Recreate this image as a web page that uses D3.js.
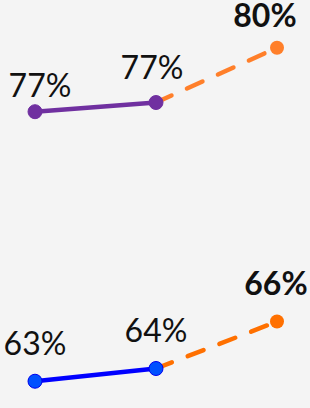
<!DOCTYPE html>
<html><head><meta charset="utf-8">
<script src="https://cdn.jsdelivr.net/npm/d3@7"></script>
<style>
html,body{margin:0;padding:0;background:#f4f4f4;}
svg{display:block;}
text{font-family:Lato,"Noto Sans",sans-serif;fill:#111;}
</style></head>
<body>
<svg id="c" width="310" height="408"></svg>
<script>
const periods = ["P1", "P2", "P3"];
const topValues = [76.73, 77.2, 80.0];
const bottomValues = [62.95, 63.6, 66.0];
const topLabels = ["77%", "77%", "80%"];
const bottomLabels = ["63%", "64%", "66%"];

const svg = d3.select("#c");
const x = d3.scalePoint().domain(periods).range([35, 277]);
const y = d3.scaleLinear().domain([62, 81]).range([399.8, 28.2]);

const panels = [
  {values: topValues, labels: topLabels, line: "#7030a0", dot: "#7030a0", dotStroke: "#7030a0", proj: "#ff7f2a",
   lblDx: [5, -4, -12], lblDy: [-15, -24, -21]},
  {values: bottomValues, labels: bottomLabels, line: "#0000ff", dot: "#0050ff", dotStroke: "#0000ee", proj: "#ff7000",
   lblDx: [0, 0, -1], lblDy: [-26, -27, -27]}
];

panels.forEach(p => {
  const pts = periods.map((k, i) => ({k, v: p.values[i], i}));
  const g = svg.append("g");
  const line = d3.line().x(d => x(d.k)).y(d => y(d.v));
  g.append("path").datum(pts.slice(1)).attr("d", line)
    .attr("fill", "none").attr("stroke", p.proj).attr("stroke-width", 4.5)
    .attr("stroke-linecap", "round").attr("stroke-dasharray", "17 17").attr("stroke-dashoffset", 0);
  g.append("path").datum(pts.slice(0, 2)).attr("d", line)
    .attr("fill", "none").attr("stroke", p.line).attr("stroke-width", 4.5);
  g.selectAll("circle.a").data(pts.slice(0, 2)).join("circle")
    .attr("cx", d => x(d.k)).attr("cy", d => y(d.v)).attr("r", 7)
    .attr("fill", p.dot).attr("stroke", p.dotStroke).attr("stroke-width", 1);
  g.append("circle").datum(pts[2]).attr("cx", d => x(d.k)).attr("cy", d => y(d.v)).attr("r", 7)
    .attr("fill", p.proj);
  g.selectAll("text").data(pts).join("text")
    .attr("x", d => x(d.k) + p.lblDx[d.i]).attr("y", d => y(d.v) + p.lblDy[d.i])
    .attr("text-anchor", "middle").attr("font-size", 32)
    .attr("font-weight", d => d.i === 2 ? 700 : 400)
    .text(d => p.labels[d.i]);
});
</script>
</body></html>
